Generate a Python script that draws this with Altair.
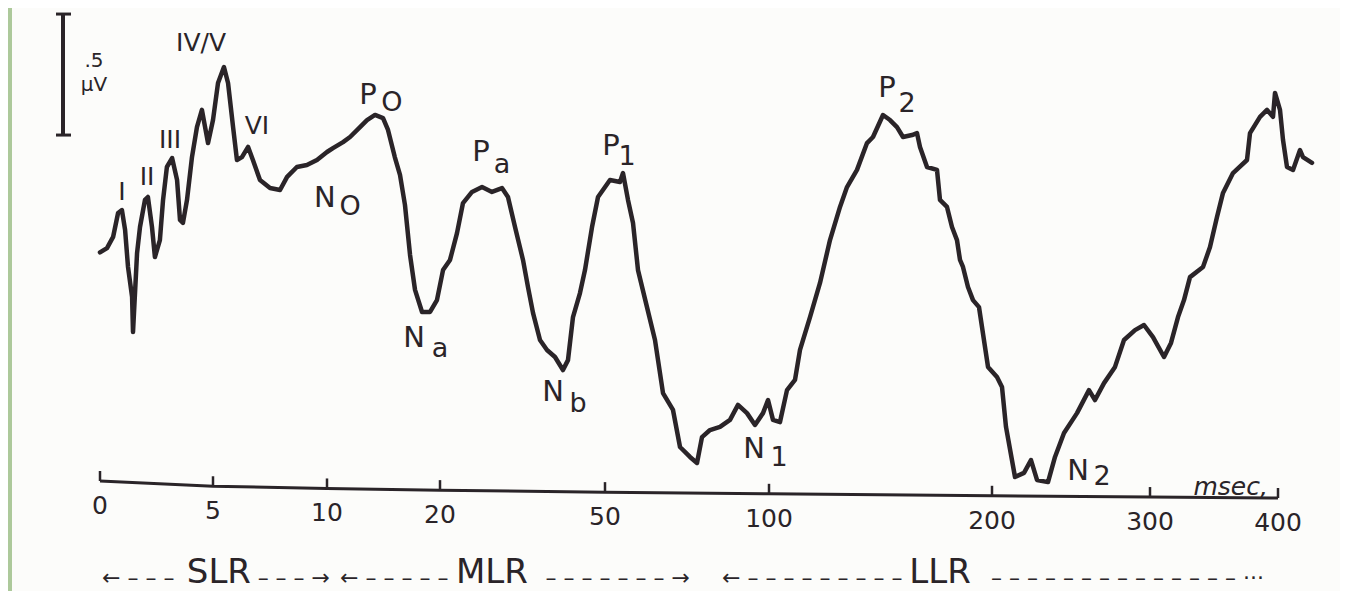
import altair as alt
import pandas as pd

# ---------------- data ----------------
# latency (msec) and amplitude (microvolts, relative to the start of the trace)
trace_ms = [0, 0.31, 0.58, 0.80, 0.97, 1.11, 1.24, 1.42, 1.46, 1.64, 1.77, 1.99, 2.12, 2.30, 2.43,
            2.65, 2.79, 2.96, 3.19, 3.41, 3.54, 3.67, 3.85, 4.07, 4.29, 4.51, 4.65, 4.78, 5.00, 5.22,
            5.48, 5.66, 5.88, 6.05, 6.27, 6.54, 6.75, 7.06, 7.50, 7.94, 8.25, 8.68, 9.12, 9.56, 10.0,
            10.53, 11.42, 12.04, 12.92, 13.54, 14.25, 14.96, 15.4, 16.0, 16.46, 16.90, 17.35, 17.79,
            18.41, 19.12, 19.73, 20.55, 21.82, 23.09, 24.18, 25.82, 27.64, 29.45, 31.27, 32.36, 33.64,
            35.09, 36.0, 36.91, 38.18, 39.45, 40.91, 42.36, 43.27, 44.18, 45.45, 46.36, 47.64, 48.73,
            51.52, 54.57, 55.49, 57.01, 58.54, 60.06, 62.80, 65.24, 67.68, 70.73, 72.87, 75.91, 78.05,
            79.57, 82.01, 85.06, 88.11, 90.55, 93.29, 95.73, 98.17, 99.70, 101.79, 104.93, 108.07,
            111.66, 113.90, 118.39, 122.87, 127.35, 131.84, 134.98, 139.46, 143.95, 146.64, 151.12,
            154.26, 157.40, 160.09, 164.13, 166.37, 167.71, 170.85, 175.34, 176.68, 179.82, 182.06,
            184.30, 185.65, 186.99, 189.23, 191.48, 194.17, 198.21, 203.16, 206.33, 208.86, 214.56,
            220.25, 224.68, 228.48, 235.44, 239.87, 245.57, 253.80, 261.39, 265.19, 270.89, 277.85,
            283.54, 290.51, 296.20, 302.34, 310.94, 316.41, 321.88, 326.56, 331.25, 341.41, 346.88,
            352.34, 357.03, 364.84, 375.78, 378.13, 385.94, 391.41, 396.09, 397.66, 401.56, 403.91,
            407.03, 411.72, 417.19, 419.53, 426.56]
trace_uv = [-0.010, 0.008, 0.054, 0.153, 0.165, 0.083, -0.070, -0.194, -0.339, -0.012, 0.095, 0.207,
            0.219, 0.095, -0.029, 0.041, 0.207, 0.343, 0.380, 0.289, 0.124, 0.112, 0.207, 0.384,
            0.508, 0.579, 0.508, 0.442, 0.537, 0.690, 0.756, 0.690, 0.508, 0.372, 0.384, 0.426,
            0.372, 0.289, 0.256, 0.248, 0.302, 0.343, 0.351, 0.372, 0.405, 0.421, 0.446, 0.467,
            0.508, 0.537, 0.558, 0.545, 0.496, 0.384, 0.310, 0.186, -0.021, -0.165, -0.256, -0.256,
            -0.207, -0.083, -0.041, 0.070, 0.194, 0.240, 0.260, 0.240, 0.256, 0.219, 0.095, -0.041,
            -0.153, -0.260, -0.372, -0.413, -0.442, -0.496, -0.455, -0.277, -0.178, -0.083, 0.095,
            0.219, 0.289, 0.281, 0.318, 0.207, 0.112, -0.083, -0.236, -0.372, -0.591, -0.661,
            -0.814, -0.855, -0.880, -0.773, -0.744, -0.731, -0.702, -0.640, -0.674, -0.723, -0.674,
            -0.620, -0.702, -0.711, -0.579, -0.537, -0.413, -0.277, -0.136, 0.041, 0.178, 0.260,
            0.331, 0.442, 0.467, 0.558, 0.537, 0.508, 0.467, 0.475, 0.483, 0.426, 0.343, 0.331,
            0.207, 0.178, 0.095, 0.041, -0.041, -0.070, -0.153, -0.207, -0.236, -0.483, -0.525,
            -0.566, -0.731, -0.938, -0.921, -0.868, -0.950, -0.959, -0.855, -0.756, -0.674, -0.579,
            -0.620, -0.550, -0.483, -0.372, -0.331, -0.310, -0.360, -0.442, -0.384, -0.277, -0.207,
            -0.112, -0.070, 0.012, 0.136, 0.236, 0.318, 0.372, 0.483, 0.550, 0.579, 0.550, 0.649,
            0.579, 0.455, 0.343, 0.331, 0.413, 0.384, 0.360]
assert len(trace_ms) == len(trace_uv)

tick_ms = [0, 5, 10, 20, 50, 100, 200, 300, 400]
tick_text = ["0", "5", "10", "20", "50", "100", "200", "300", "400"]

# brainstem wave labels
wave_text = ["I", "II", "III", "IV/V", "VI"]
wave_ms = [0.97, 2.08, 3.10, 4.47, 6.93]
wave_uv = [0.240, 0.302, 0.455, 0.855, 0.512]

# component labels: main letter + subscript
comp_letter = ["P", "N", "P", "P", "P", "N", "N", "N", "N"]
comp_letter_ms = [13.63, 9.91, 27.45, 51.83, 152.9, 17.7, 40.55, 95.43, 254.5]
comp_letter_uv = [0.640, 0.215, 0.405, 0.430, 0.669, -0.364, -0.587, -0.822, -0.913]
comp_sub = ["O", "O", "a", "1", "2", "a", "b", "1", "2"]
comp_sub_ms = [15.75, 12.04, 31.27, 56.71, 161.9, 20.0, 45.09, 104.48, 269.7]
comp_sub_uv = [0.607, 0.178, 0.351, 0.384, 0.603, -0.409, -0.636, -0.860, -0.938]

# calibration bar (0.5 microvolt)
cal_uv = [0.975, 0.475]
cal_text = [".5", "\u00b5V"]
cal_text_uv = [0.755, 0.657]

# response-latency regions
region_name = ["SLR", "MLR", "LLR"]
region_center_ms = [5.26, 29.45, 176.7]
region_start_ms = [0.09, 11.15, 85.7]
region_end_ms = [10.27, 75.9, 389.0]
region_left = ["\u2190 \u2013 \u2013 \u2013",
               "\u2190 \u2013 \u2013 \u2013 \u2013 \u2013",
               "\u2190 \u2013 \u2013 \u2013 \u2013 \u2013 \u2013 \u2013 \u2013 \u2013"]
region_right = ["\u2013 \u2013 \u2013 \u2192",
                "\u2013 \u2013 \u2013 \u2013 \u2013 \u2013 \u2013 \u2192",
                "\u2013 \u2013 \u2013 \u2013 \u2013 \u2013 \u2013 \u2013 \u2013 \u2013 \u2013 \u2013 \u2013 \u2013 \u00b7\u00b7\u00b7"]
region_name_uv = -1.405
region_dash_uv = -1.384

unit_ms = 363.0
unit_uv = -0.979

# ---------------- chart ----------------
INK = "#2a2428"
FONT = "DejaVu Sans"
W, H = 1328, 583

xscale = alt.Scale(domain=tick_ms, range=[88, 201, 315, 428, 593, 757, 980, 1138, 1266],
                   nice=False, zero=False)
yscale = alt.Scale(domain=[-1.409, 1.0], nice=False, zero=False)

SAG = "(473 + 17*sqrt(max(0, (scale('x', datum.ms) - 88)/1178)))"

trace_df = pd.DataFrame({"ms": trace_ms, "uv": trace_uv})
tick_df = pd.DataFrame({"ms": tick_ms, "label": tick_text})
wave_df = pd.DataFrame({"ms": wave_ms, "uv": wave_uv, "t": wave_text})
letter_df = pd.DataFrame({"ms": comp_letter_ms, "uv": comp_letter_uv, "t": comp_letter})
sub_df = pd.DataFrame({"ms": comp_sub_ms, "uv": comp_sub_uv, "t": comp_sub})
cal_df = pd.DataFrame({"uv": cal_uv})
cal_t_df = pd.DataFrame({"uv": cal_text_uv, "t": cal_text})
reg_df = pd.DataFrame({"name": region_name, "c": region_center_ms, "s": region_start_ms,
                       "e": region_end_ms, "l": region_left, "r": region_right,
                       "nu": [region_name_uv] * 3, "du": [region_dash_uv] * 3})
unit_df = pd.DataFrame({"ms": [unit_ms], "uv": [unit_uv], "t": ["msec,"]})

X = alt.X("ms:Q", scale=xscale, axis=None)
Y = alt.Y("uv:Q", scale=yscale, axis=None)

trace = alt.Chart(trace_df).mark_line(color=INK, strokeWidth=4.5, strokeJoin="round",
                                      strokeCap="round").encode(x=X, y=Y)

axis_line = alt.Chart(tick_df).mark_line(color=INK, strokeWidth=3,
                                         y={"expr": SAG}).encode(x=X)
ticks = alt.Chart(tick_df).mark_rule(color=INK, strokeWidth=2.5,
                                     y={"expr": SAG + " - 10"},
                                     y2={"expr": SAG}).encode(x=X)
tick_labels = alt.Chart(tick_df).mark_text(color=INK, font=FONT, fontSize=25,
                                           baseline="middle", align="center",
                                           y={"expr": SAG + " + 25"}).encode(x=X, text="label:N")

waves = alt.Chart(wave_df).mark_text(color=INK, font=FONT, fontSize=25,
                                     baseline="middle").encode(x=X, y=Y, text="t:N")
letters = alt.Chart(letter_df).mark_text(color=INK, font=FONT, fontSize=29,
                                         baseline="middle").encode(x=X, y=Y, text="t:N")
subs = alt.Chart(sub_df).mark_text(color=INK, font=FONT, fontSize=27,
                                   baseline="middle").encode(x=X, y=Y, text="t:N")

cal_bar = alt.Chart(cal_df).mark_rule(color=INK, strokeWidth=4).encode(
    x=alt.value(51), y=alt.Y("max(uv):Q", scale=yscale, axis=None), y2="min(uv):Q")
cal_caps = alt.Chart(cal_df).mark_rule(color=INK, strokeWidth=3).encode(
    x=alt.value(44), x2=alt.value(59), y=Y)
cal_label = alt.Chart(cal_t_df).mark_text(
    color=INK, font=FONT, fontSize=20, baseline="alphabetic").encode(
    x=alt.value(82), y=Y, text="t:N")

unit = alt.Chart(unit_df).mark_text(color=INK, font=FONT, fontSize=25, fontStyle="italic",
                                    baseline="middle").encode(x=X, y=Y, text="t:N")

reg_name = alt.Chart(reg_df).mark_text(color=INK, font=FONT, fontSize=34, baseline="bottom",
                                       align="center").encode(
    x=alt.X("c:Q", scale=xscale, axis=None), y=alt.Y("nu:Q", scale=yscale, axis=None),
    text="name:N")
reg_left = alt.Chart(reg_df).mark_text(color=INK, font=FONT, fontSize=22, baseline="alphabetic",
                                       align="left").encode(
    x=alt.X("s:Q", scale=xscale, axis=None), y=alt.Y("du:Q", scale=yscale, axis=None),
    text="l:N")
reg_right = alt.Chart(reg_df).mark_text(color=INK, font=FONT, fontSize=22, baseline="alphabetic",
                                        align="right").encode(
    x=alt.X("e:Q", scale=xscale, axis=None), y=alt.Y("du:Q", scale=yscale, axis=None),
    text="r:N")

chart = alt.layer(
    axis_line, ticks, tick_labels, trace, waves, letters, subs,
    cal_bar, cal_caps, cal_label, unit, reg_left, reg_name, reg_right
).properties(
    width=W, height=H,
    autosize=alt.AutoSizeParams(type="none"),
    padding={"left": 4, "top": 0, "right": 0, "bottom": 0},
    background="#adc99b",
).configure_view(fill="#fcfcfa", stroke=None, strokeWidth=0)

chart.save("out.html", embed_options={"renderer": "svg", "actions": False})
